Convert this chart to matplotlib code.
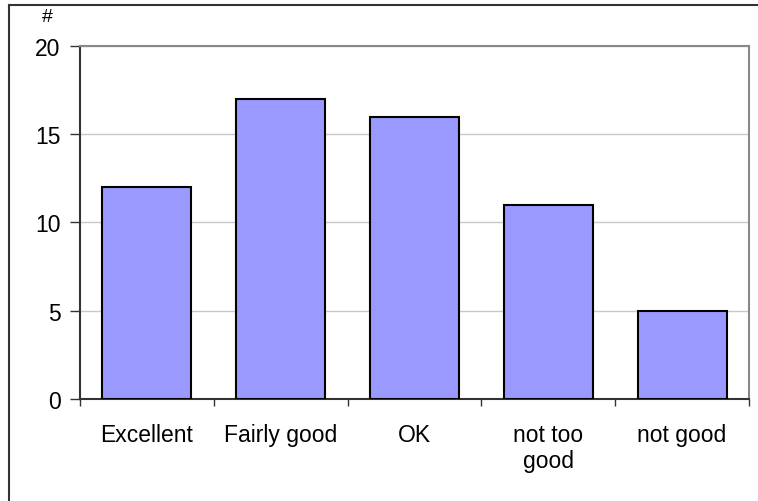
import matplotlib.pyplot as plt
from matplotlib.lines import Line2D

categorias = ["Excellent", "Fairly good", "OK", "not too\ngood", "not good"]
valores = [12, 17, 16, 11, 5]
ticks_y = [0, 5, 10, 15, 20]

plt.rcParams['font.family'] = ['Liberation Sans', 'DejaVu Sans']

fig = plt.figure(figsize=(7.58, 5.02), dpi=100)
ax = fig.add_axes([80 / 758, 1 - 400 / 502, 669 / 758, 353 / 502])

x = range(len(categorias))
ax.bar(x, valores, width=0.665, color="#9999FF", edgecolor="black", linewidth=1.5, zorder=3)

ax.set_xlim(-0.5, len(categorias) - 0.5)
ax.set_ylim(0, 20)
ax.set_yticks(ticks_y)
ax.set_yticklabels([str(t) for t in ticks_y], fontsize=16.5)
ax.yaxis.grid(True, color="#c8c8c8", linewidth=1, zorder=0)

# ticks del eje x entre categorias, etiquetas centradas
ax.set_xticks([i - 0.5 for i in range(len(categorias) + 1)])
ax.set_xticklabels([])
ax.set_xticks(list(x), minor=True)
ax.set_xticklabels(categorias, minor=True, fontsize=16.5, linespacing=1.2, va="top")
ax.tick_params(axis="x", which="major", length=5, width=1, color="#333333", direction="out")
ax.tick_params(axis="x", which="minor", length=0, pad=17)
ax.tick_params(axis="y", length=7, width=1, color="#333333", pad=7)

ax.spines["left"].set_color("#333333")
ax.spines["bottom"].set_color("#333333")
ax.spines["top"].set_color("#888888")
ax.spines["right"].set_color("#888888")
for s in ax.spines.values():
    s.set_linewidth(1.5)

fig.text(47 / 758, 1 - 17 / 502, "#", fontsize=14, ha="center", va="center")

# marco exterior del grafico
fig.add_artist(Line2D([9 / 758, 9 / 758], [0, 1 - 6 / 502], transform=fig.transFigure,
                      color="#333333", linewidth=1.5))
fig.add_artist(Line2D([9 / 758, 1], [1 - 6 / 502, 1 - 6 / 502], transform=fig.transFigure,
                      color="#333333", linewidth=1.5))

plt.savefig("out.png", dpi=100)
